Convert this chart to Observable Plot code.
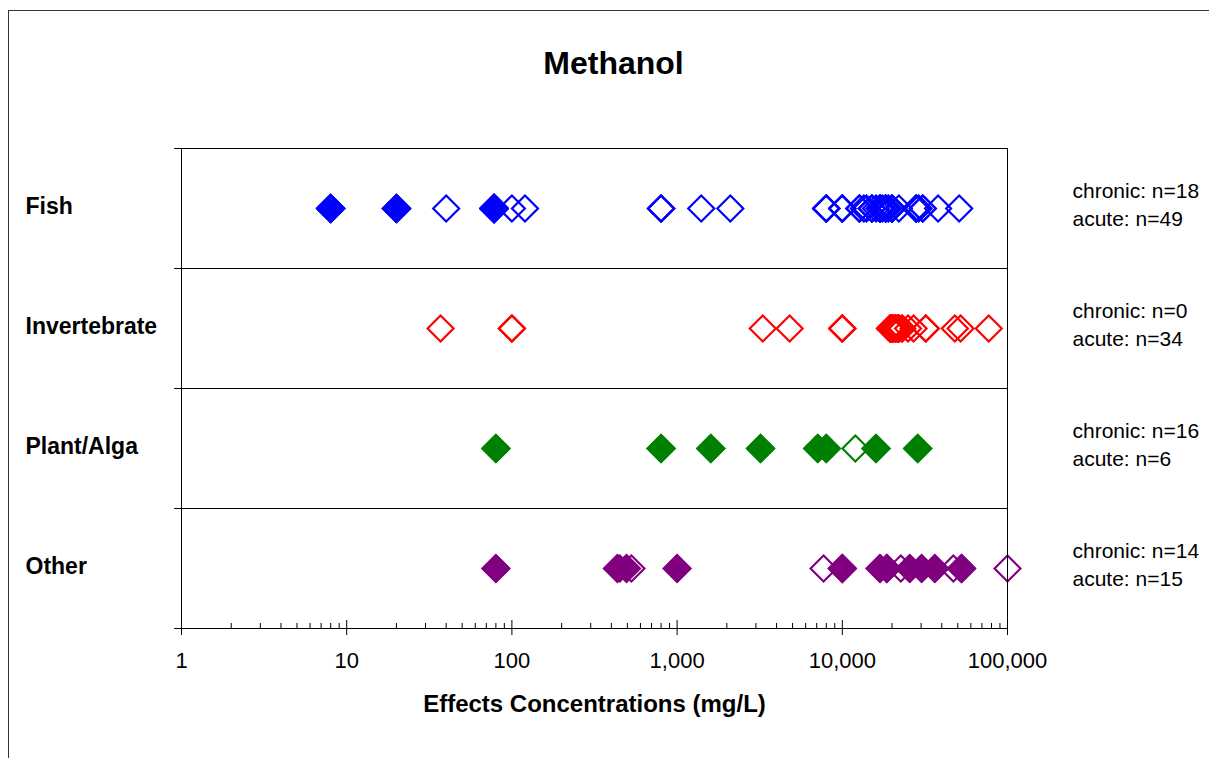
<!DOCTYPE html>
<html><head><meta charset="utf-8">
<script src="https://cdn.jsdelivr.net/npm/d3@7"></script>
<script src="https://cdn.jsdelivr.net/npm/@observablehq/plot@0.6"></script>
<style>
html,body{margin:0;padding:0;background:#fff;overflow:hidden;width:1209px;height:758px;}
#frame{position:absolute;left:8px;top:10px;width:1400px;height:1000px;border-top:1.5px solid #333;border-left:1.5px solid #333;pointer-events:none;}
#chart{position:absolute;left:0;top:0;}
</style></head><body>
<div id="chart"></div><div id="frame"></div>
<script>
const title = "Methanol";
const xLabel = "Effects Concentrations (mg/L)";
const categories = ["Fish", "Invertebrate", "Plant/Alga", "Other"];
const colors = ["#0000ff", "#ff0000", "#008000", "#800080"];
const chronicCounts = [18, 0, 16, 14];
const acuteCounts = [49, 34, 6, 15];
const majorTicks = [1, 10, 100, 1000, 10000, 100000];

// chronic (filled) and acute (open) effect concentrations, mg/L
const fishChronic = [8, 8, 8, 8, 8, 20, 20, 20, 20, 78, 78, 78, 78, 78, 78, 78, 78, 78];
const fishAcute = [40, 100, 120, 800, 800, 800, 1400, 2100,
  8000, 8000, 8000, 8000, 10000, 10000, 10000, 10000, 12700, 12700, 12700, 13500, 14000,
  15100, 15100, 15100, 16000, 16900, 16900, 16900, 16900, 17000, 17500,
  18300, 18300, 18300, 18300, 19000, 20000, 20000, 20000, 20000, 22000,
  28000, 28000, 28000, 29000, 30700, 30700, 38000, 51000];
const invertChronic = [];
const invertAcute = [37, 100, 100, 3300, 4800, 10000, 10000, 10000,
  19500, 19500, 19500, 19500, 20000, 20000, 20000, 20500, 20500, 21000, 21000, 21000,
  21500, 21500, 22000, 22000, 22000, 23000, 23000, 25000, 27000,
  32000, 32000, 48000, 52000, 77000];
const plantChronic = [80, 80, 800, 800, 1600, 1600, 3200, 3200, 7100, 7100, 8000, 8000, 16000, 16000, 28600, 28600];
const plantAcute = [12000, 80, 800, 3200, 8000, 16000];
const otherChronic = [80, 435, 494, 1000, 10000, 10000, 16900, 18600, 18600, 25600, 30200, 36300, 52700, 52700];
const otherAcute = [529, 7700, 22600, 47000, 100000, 10000, 17000, 18600, 25600, 30200, 36300, 52700, 80, 1000, 450];

const chronicSets = [fishChronic, invertChronic, plantChronic, otherChronic];
const acuteSets = [fishAcute, invertAcute, plantAcute, otherAcute];

const rowY = i => categories.length - 0.5 - i;
const rows = categories.map((c, i) => ({cat: c, y: rowY(i), chronic: chronicCounts[i], acute: acuteCounts[i]}));
const chronic = chronicSets.flatMap((vs, i) => vs.map(v => ({cat: categories[i], y: rowY(i), value: v})));
const acute = acuteSets.flatMap((vs, i) => vs.map(v => ({cat: categories[i], y: rowY(i), value: v})));

const minorTicks = [];
for (let k = 0; k < 5; k++) for (let m = 2; m < 10; m++) minorTicks.push(m * Math.pow(10, k));

const chart = Plot.plot({
  width: 1209,
  height: 758,
  marginLeft: 181,
  marginRight: 202,
  marginTop: 148,
  marginBottom: 130,
  style: {fontFamily: "'Liberation Sans', Arial, sans-serif", background: "transparent", color: "black"},
  x: {type: "log", domain: [1, 100000]},
  y: {domain: [0, categories.length]},
  color: {domain: categories, range: colors},
  marks: [
    Plot.ruleY([1, 2, 3], {stroke: "black", strokeWidth: 1}),
    Plot.dot(chronic, {x: "value", y: "y", symbol: "diamond2", r: 13.5, fill: "cat", stroke: "none"}),
    Plot.dot(acute, {x: "value", y: "y", symbol: "diamond2", r: 11.7, stroke: "cat", strokeWidth: 2.2, fill: "none"}),
    Plot.frame({stroke: "black", strokeWidth: 1}),
    Plot.axisY({ticks: [0, 1, 2, 3, 4], tickSize: 7, tickFormat: () => "", label: null}),
    Plot.axisX({ticks: majorTicks, tickSize: 7, tickPadding: 17, tickFormat: d3.format(","), fontSize: 22, label: null}),
    Plot.axisX({ticks: majorTicks, tickSize: 8, dy: -8, tickFormat: () => "", label: null}),
    Plot.axisX({ticks: minorTicks, tickSize: 5, dy: -5, tickFormat: () => "", label: null}),
    Plot.text(rows, {y: "y", text: "cat", frameAnchor: "left", dx: -156, dy: -2, textAnchor: "start", lineAnchor: "middle", fontSize: 23, fontWeight: "bold"}),
    Plot.text(rows, {y: "y", text: d => `chronic: n=${d.chronic}\nacute: n=${d.acute}`, frameAnchor: "right", dx: 65, dy: -5, textAnchor: "start", lineAnchor: "middle", fontSize: 21, lineHeight: 1.33}),
    Plot.text([title], {frameAnchor: "top", dx: 19, dy: -85, lineAnchor: "middle", fontSize: 32, fontWeight: "bold"}),
    Plot.text([xLabel], {frameAnchor: "bottom", dy: 76, lineAnchor: "middle", fontSize: 24, fontWeight: "bold"})
  ]
});
document.getElementById("chart").appendChild(chart);
</script>
</body></html>
